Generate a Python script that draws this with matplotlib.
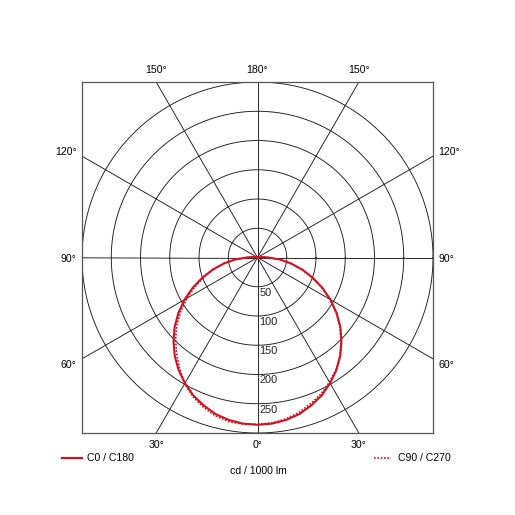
import numpy as np
import matplotlib.pyplot as plt
from matplotlib.lines import Line2D

plt.rcParams['font.family'] = ['Liberation Sans', 'DejaVu Sans']

# gamma angles (deg) and intensities in cd / 1000 lm
gamma = [0, 5, 10, 15, 20, 25, 30, 35, 40, 45, 50, 55, 60, 65, 70, 75, 80, 85, 90, 95, 100, 105, 180]
c0   = [286, 285, 282, 277, 269, 260, 248, 235, 220, 203, 185, 165, 144, 122, 100, 79, 58, 38, 18, 8, 4, 1, 0]
c180 = [286, 285, 282, 277, 269, 260, 248, 235, 220, 203, 185, 165, 144, 122, 100, 79, 58, 38, 18, 8, 4, 1, 0]
c90  = [285, 284, 280, 274, 266, 257, 246, 234, 219, 202, 184, 164, 143, 121, 99, 78, 57, 37, 17, 8, 4, 1, 0]
c270 = [285, 286, 285, 280, 272, 262, 249, 232, 215, 198, 180, 160, 139, 118, 97, 77, 58, 38, 18, 8, 4, 1, 0]

rings = [50, 100, 150, 200, 250, 300]
ring_labels = ["50", "100", "150", "200", "250"]
spokes = np.arange(0, 360, 30)

red = "#cc1424"
grid = "#1a1a1a"

fig = plt.figure(figsize=(5.15, 5.15), dpi=100)
ax = fig.add_axes([82 / 515, 82 / 515, 351 / 515, 351 / 515])
ax.set_xlim(-300, 300)
ax.set_ylim(-300, 300)
ax.set_aspect("equal")
ax.set_xticks([])
ax.set_yticks([])
for s in ax.spines.values():
    s.set_linewidth(0.9)
    s.set_color("#555555")

t = np.linspace(0, 2 * np.pi, 400)
for r in rings:
    ax.plot(r * np.cos(t), r * np.sin(t), color=grid, lw=0.65, zorder=1)
for a in spokes:
    ar = np.radians(a)
    ax.plot([0, 1000 * np.sin(ar)], [0, -1000 * np.cos(ar)], color=grid, lw=0.65, zorder=1)

fs = 7.6
for r, lab in zip(rings, ring_labels):
    ax.text(3, -r - 1.5, lab, ha="left", va="top", fontsize=fs + 0.3, color="#222222", zorder=3)


def curve(right, left):
    g = np.radians(gamma)
    xr = np.array(right) * np.sin(g)
    yr = -np.array(right) * np.cos(g)
    xl = -np.array(left) * np.sin(g)
    yl = -np.array(left) * np.cos(g)
    x = np.concatenate([xl[::-1], xr[1:]])
    y = np.concatenate([yl[::-1], yr[1:]])
    return x, y


x, y = curve(c0, c180)
ax.plot(x, y, color=red, lw=1.5, zorder=4)
x, y = curve(c90, c270)
ax.plot(x, y, color=red, lw=1.2, ls=(0, (1, 1)), zorder=4)

# angle labels around the box
ax.text(0, -312, "0°", ha="center", va="top", fontsize=fs)
ax.text(-173, -312, "30°", ha="center", va="top", fontsize=fs)
ax.text(173, -312, "30°", ha="center", va="top", fontsize=fs)
ax.text(0, 312, "180°", ha="center", va="bottom", fontsize=fs)
ax.text(-173, 312, "150°", ha="center", va="bottom", fontsize=fs)
ax.text(173, 312, "150°", ha="center", va="bottom", fontsize=fs)
for yy, lab in [(-183, "60°"), (-2, "90°"), (180, "120°")]:
    ax.text(-309, yy, lab, ha="right", va="center", fontsize=fs)
    ax.text(309, yy, lab, ha="left", va="center", fontsize=fs)

# legend
ly = 1 - 458 / 515
fig.add_artist(Line2D([62 / 515, 82 / 515], [ly, ly], color=red, lw=1.6))
fig.text(87 / 515, ly, "C0 / C180", ha="left", va="center", fontsize=fs)
fig.add_artist(Line2D([374 / 515, 391 / 515], [ly, ly], color=red, lw=1.2, ls=(0, (1, 1))))
fig.text(398 / 515, ly, "C90 / C270", ha="left", va="center", fontsize=fs)
fig.text(258 / 515, 1 - 471 / 515, "cd / 1000 lm", ha="center", va="center", fontsize=fs)

plt.savefig("out.png", dpi=100)
